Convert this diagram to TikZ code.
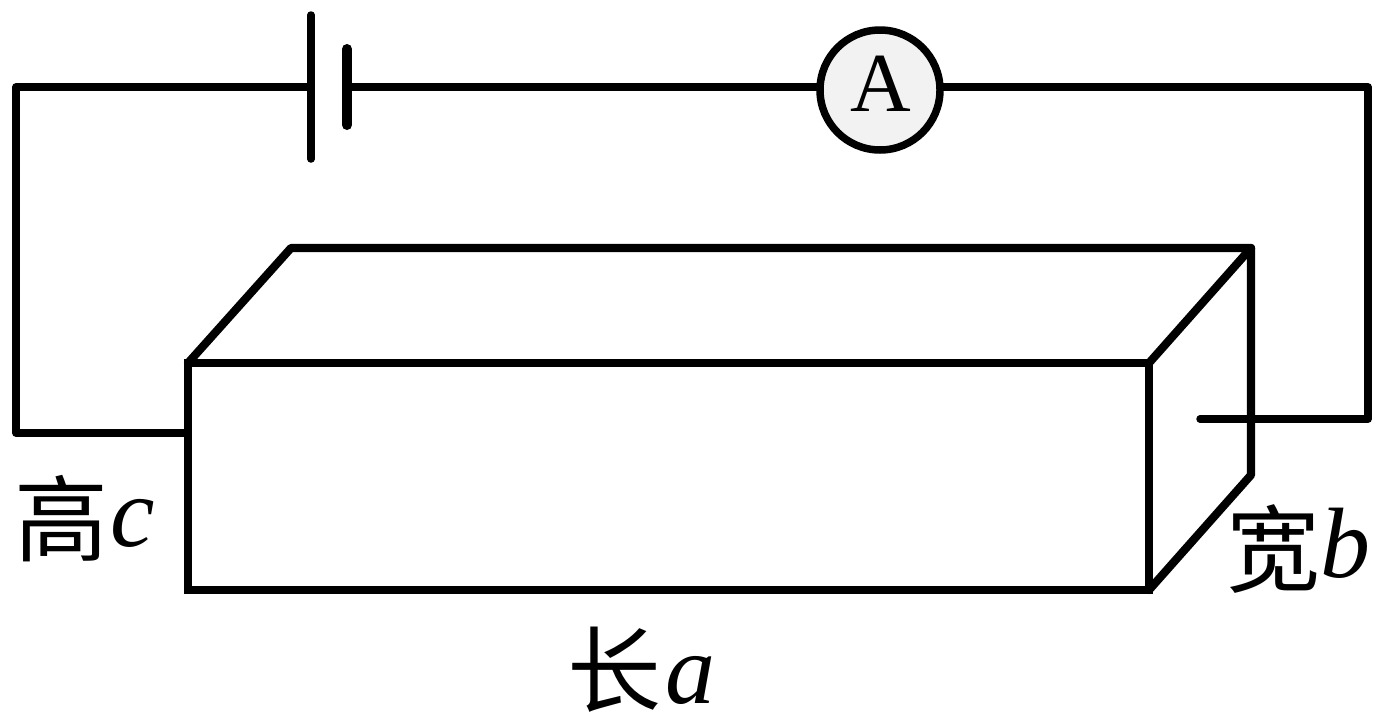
\documentclass[tikz,border=0pt]{standalone}
\usepackage{fontspec}
\setmainfont[ItalicFont={Liberation Serif Italic}]{Liberation Serif}
\newfontfamily\cjk{Noto Sans CJK SC}
\tikzset{wire/.style={line width=7.5pt,line cap=round,line join=round,black},
boxline/.style={line width=8.2pt,line cap=round,line join=round,black},
lbl/.style={inner sep=0pt,font=\fontsize{94}{94}\selectfont},
ltn/.style={inner sep=0pt,font=\fontsize{100}{100}\selectfont\itshape}}
\begin{document}
\begin{tikzpicture}[x=1pt,y=-1pt]
\useasboundingbox (0,0) rectangle (1383,723);
\fill[white] (0,0) rectangle (1383,723);
\coordinate (bl) at (188,433);
\coordinate (tl) at (16,433);
\coordinate (tt) at (16,87);
\coordinate (b1) at (311,87);
\coordinate (b2) at (347,87);
\coordinate (rt) at (1368,87);
\coordinate (rb) at (1368,419);
\coordinate (re) at (1200,419);
\coordinate (ame) at (940,87);
\coordinate (amw) at (820,87);
\node[circle,draw=black,line width=7.5pt,fill=black!5,minimum size=120pt,inner sep=0pt] (am) at (880,90) {};
\node[inner sep=0pt,font=\fontsize{84}{84}\selectfont] (aa) at (881,84) {A};
\draw[wire,line cap=butt] (bl) -- (tl) -- (tt) -- (b1);
\draw[wire,line cap=butt] (b2) -- (amw);
\draw[wire] (ame) -- (rt) -- (rb) -- (re);
\draw[wire] (311,15) -- (311,159);
\draw[wire,line width=10pt] (347,49) -- (347,125);
\draw[boxline,line join=miter] (188,363) rectangle (1149,590);
\draw[boxline] (188,363) -- (291,248) -- (1251,248) -- (1149,363);
\draw[boxline] (1251,248) -- (1251,475) -- (1149,590);
\node[lbl,anchor=west] (gao) at (14,519) {\cjk 高};
\node[ltn,anchor=west] (c) at (110,523) {c};
\node[lbl,anchor=west] (kuan) at (1226,549) {\cjk 宽};
\node[ltn,anchor=west] (b) at (1320,543) {b};
\node[lbl,anchor=west] (chang) at (567,670) {\cjk 长};
\node[ltn,anchor=west] (a) at (665,680) {a};
\end{tikzpicture}
\end{document}
